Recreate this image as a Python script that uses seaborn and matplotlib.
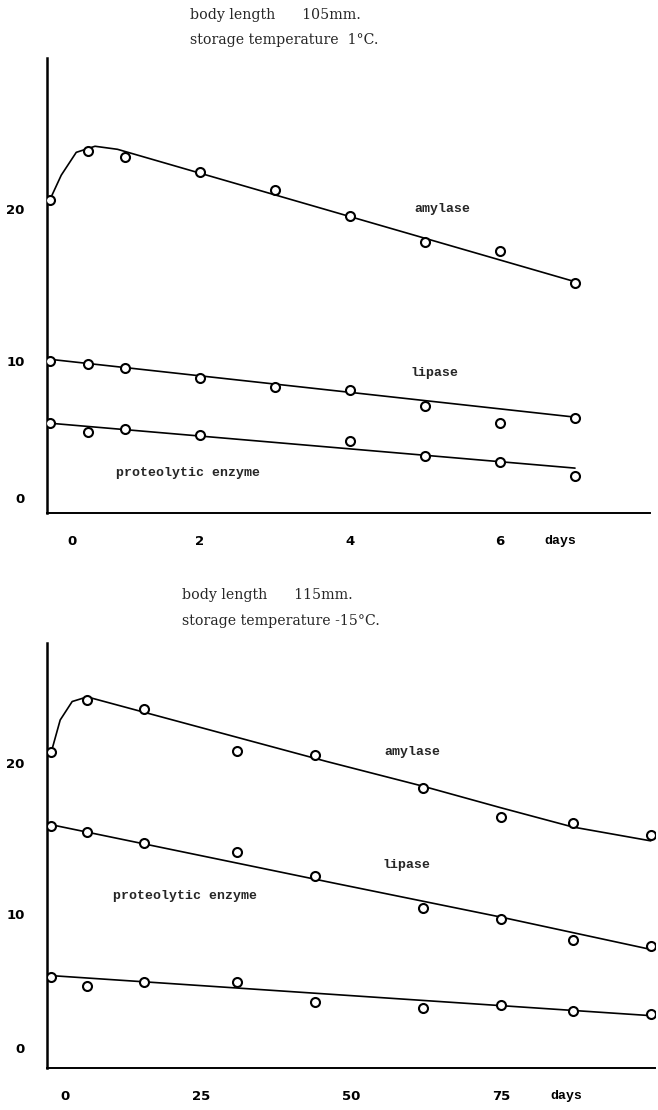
import matplotlib
matplotlib.use("Agg")
import matplotlib.pyplot as plt
import seaborn as sns
import pandas as pd

# ---------------- top panel: body length 105 mm, storage 1 °C ----------------
top_days = [0, 0.5, 1, 2, 3, 4, 5, 6, 7]
top_amylase = [20.6, 23.8, 23.4, 22.4, 21.2, 19.5, 17.8, 17.2, 15.1]
top_lipase = [10.0, 9.8, 9.5, 8.9, 8.3, 8.1, 7.0, 5.9, 6.25]
top_prot_days = [0, 0.5, 1, 2, 4, 5, 6, 7]
top_proteolytic = [5.9, 5.3, 5.5, 5.1, 4.7, 3.75, 3.35, 2.4]

top_amy_fit_days = [0, 0.15, 0.35, 0.6, 0.9, 7]
top_amy_fit = [20.6, 22.2, 23.7, 24.1, 23.9, 15.2]
top_lip_fit_days = [0, 7]
top_lip_fit = [10.1, 6.3]
top_pro_fit_days = [0, 7]
top_pro_fit = [5.9, 2.95]

# ---------------- bottom panel: body length 115 mm, storage -15 °C ----------------
bot_days = [0, 6, 15.5, 31, 44, 62, 75, 87, 100]
bot_amylase = [20.5, 23.9, 23.3, 20.6, 20.3, 18.2, 16.3, 15.9, 15.1]
bot_lipase = [15.7, 15.3, 14.6, 14.0, 12.5, 10.4, 9.7, 8.3, 7.9]
bot_proteolytic = [5.9, 5.3, 5.6, 5.6, 4.3, 3.9, 4.1, 3.7, 3.5]

bot_amy_fit_days = [0, 1.5, 3.5, 6, 46, 62, 75, 87, 100]
bot_amy_fit = [20.5, 22.6, 23.8, 24.1, 19.9, 18.3, 16.9, 15.65, 14.75]
bot_lip_fit_days = [0, 46, 75, 100]
bot_lip_fit = [15.8, 12.1, 9.8, 7.7]
bot_pro_fit_days = [0, 100]
bot_pro_fit = [6.0, 3.4]

top_title = ["body length      105mm.", "storage temperature  1°C."]
bot_title = ["body length      115mm.", "storage temperature -15°C."]

sns.set_style("white")
plt.rcParams["font.family"] = ["DejaVu Sans"]

W, H = 658, 1110
fig = plt.figure(figsize=(W / 100, H / 100), dpi=100)
fig.patch.set_facecolor("white")


def px_axes(left, top, right, bottom):
    return fig.add_axes([left / W, 1 - bottom / H, (right - left) / W, (bottom - top) / H])


ax1 = px_axes(47, 58, 650, 513)
ax2 = px_axes(47, 643, 655, 1068)

label_font = dict(family="Liberation Mono", weight="bold", size=9.5)


def draw_series(ax, xs, ys, fx, fy):
    sns.lineplot(x=fx, y=fy, ax=ax, color="black", linewidth=1.2, estimator=None, sort=False)
    sns.scatterplot(x=xs, y=ys, ax=ax, marker="o", s=42, facecolor="white",
                    edgecolor="black", linewidth=1.5, zorder=3)


# ---- top
draw_series(ax1, top_days, top_amylase, top_amy_fit_days, top_amy_fit)
draw_series(ax1, top_days, top_lipase, top_lip_fit_days, top_lip_fit)
draw_series(ax1, top_prot_days, top_proteolytic, top_pro_fit_days, top_pro_fit)
ax1.set_xlim(-0.04, 8.0)
ax1.set_ylim(0, 29.9)
ax1.set_xticks([1, 2, 3, 4, 5, 6, 7], minor=True)
ax1.set_yticks([5, 10, 15, 20, 25], minor=True)
ax1.set_xticks([0.3, 2, 4, 6, 6.8])
ax1.set_xticklabels(["0", "2", "4", "6", "days"])
ax1.set_yticks([1.0, 10.0, 20.0])
ax1.set_yticklabels(["0", "10", "20"])
ax1.text(5.23, 20.0, "amylase", ha="center", va="center", **label_font)
ax1.text(5.13, 9.2, "lipase", ha="center", va="center", **label_font)
ax1.text(1.84, 2.6, "proteolytic enzyme", ha="center", va="center", **label_font)

# ---- bottom
draw_series(ax2, bot_days, bot_amylase, bot_amy_fit_days, bot_amy_fit)
draw_series(ax2, bot_days, bot_lipase, bot_lip_fit_days, bot_lip_fit)
draw_series(ax2, bot_days, bot_proteolytic, bot_pro_fit_days, bot_pro_fit)
ax2.set_xlim(-0.7, 100.7)
ax2.set_ylim(0, 27.6)
ax2.set_xticks([25, 50, 75, 100], minor=True)
ax2.set_yticks([5, 10, 15, 20, 25], minor=True)
ax2.set_xticks([2.3, 25, 50, 75, 86])
ax2.set_xticklabels(["0", "25", "50", "75", "days"])
ax2.set_yticks([1.3, 10.0, 19.8])
ax2.set_yticklabels(["0", "10", "20"])
ax2.text(60.2, 20.5, "amylase", ha="center", va="center", **label_font)
ax2.text(59.3, 13.2, "lipase", ha="center", va="center", **label_font)
ax2.text(22.3, 11.2, "proteolytic enzyme", ha="center", va="center", **label_font)

for ax in (ax1, ax2):
    ax.set_facecolor("white")
    for s in ("top", "right"):
        ax.spines[s].set_visible(False)
    ax.spines["left"].set_linewidth(1.8)
    ax.spines["bottom"].set_linewidth(1.4)
    for s in ("left", "bottom"):
        ax.spines[s].set_color("black")
    ax.tick_params(which="minor", direction="in", length=5, width=1.3, color="black")
    ax.tick_params(which="major", length=0)
    ax.tick_params(axis="x", which="major", pad=16)
    ax.tick_params(axis="y", which="major", pad=16)
    for lab in ax.get_xticklabels() + ax.get_yticklabels():
        lab.set_fontweight("bold")
        lab.set_fontsize(9.5)
        lab.set_color("black")
    ax.get_xticklabels()[-1].set_family("Liberation Mono")
    ax.set_xlabel("")
    ax.set_ylabel("")

fig.text(190 / W, 1 - 15 / H, top_title[0], family="DejaVu Serif", fontsize=10.2, va="center", ha="left")
fig.text(190 / W, 1 - 40 / H, top_title[1], family="DejaVu Serif", fontsize=10.2, va="center", ha="left")
fig.text(182 / W, 1 - 595 / H, bot_title[0], family="DejaVu Serif", fontsize=10.2, va="center", ha="left")
fig.text(182 / W, 1 - 621 / H, bot_title[1], family="DejaVu Serif", fontsize=10.2, va="center", ha="left")

fig.savefig("out.png", dpi=100, facecolor="white")
